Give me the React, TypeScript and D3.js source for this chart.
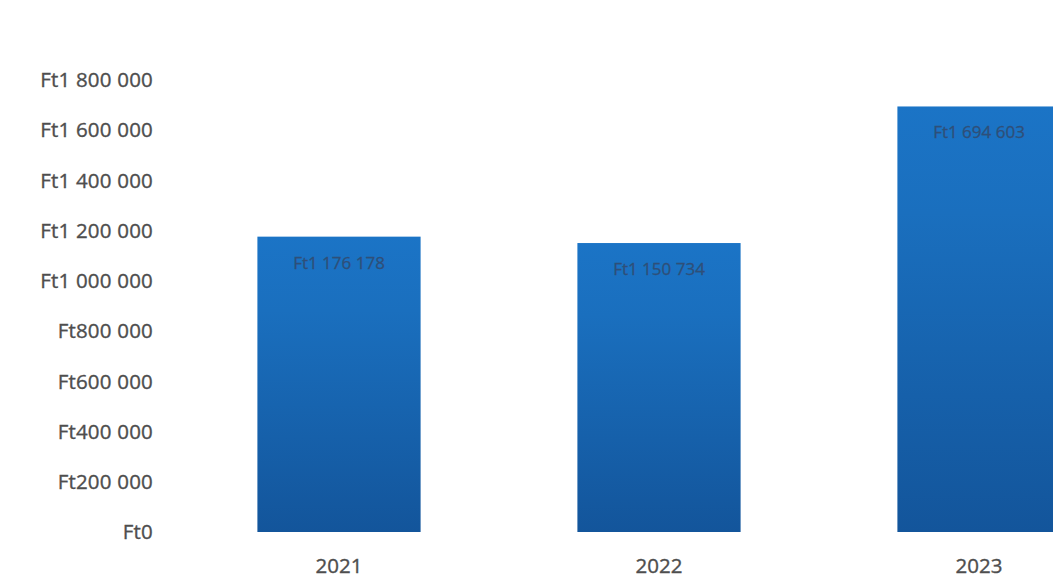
import React, { useRef, useEffect } from 'react';
import * as d3 from 'd3';

const years = ['2021', '2022', '2023'];
const amounts = [1176178, 1150734, 1694603];
const yTicks = [0, 200000, 400000, 600000, 800000, 1000000, 1200000, 1400000, 1600000, 1800000];

const WIDTH = 1053;
const HEIGHT = 578;

// Hungarian-style grouping with spaces, "Ft" prefix
const formatFt = (v: number) => 'Ft' + d3.format(',')(v).replace(/,/g, ' ');

const App: React.FC = () => {
  const svgRef = useRef<SVGSVGElement>(null);

  useEffect(() => {
    if (!svgRef.current) return;
    const svg = d3.select(svgRef.current);
    svg.selectAll('*').remove();

    const y = d3.scaleLinear().domain([0, 1800000]).range([532, 80]);
    const x = d3.scaleBand<string>().domain(years).range([179, 1139]).paddingInner(0.49).paddingOuter(0.245);

    const defs = svg.append('defs');
    const grad = defs.append('linearGradient')
      .attr('id', 'barFill')
      .attr('x1', 0).attr('y1', 0).attr('x2', 0).attr('y2', 1);
    grad.append('stop').attr('offset', '0%').attr('stop-color', '#1b74c6');
    grad.append('stop').attr('offset', '25%').attr('stop-color', '#1a6fbe');
    grad.append('stop').attr('offset', '100%').attr('stop-color', '#13559b');

    // Y axis labels (no line, no gridlines)
    svg.append('g')
      .selectAll('text')
      .data(yTicks)
      .join('text')
      .attr('x', 153)
      .attr('y', d => y(d))
      .attr('dy', '0.35em')
      .attr('text-anchor', 'end')
      .attr('font-family', 'Open Sans, sans-serif')
      .attr('font-size', 20.5)
      .attr('letter-spacing', 0.2)
      .attr('fill', '#4e4e4e')
      .attr('stroke', '#4e4e4e')
      .attr('stroke-width', 0.35)
      .text(d => formatFt(d));

    // Bars
    svg.append('g')
      .selectAll('rect')
      .data(amounts)
      .join('rect')
      .attr('x', (_, i) => x(years[i])!)
      .attr('y', d => y(d))
      .attr('width', x.bandwidth())
      .attr('height', d => y(0) - y(d))
      .attr('fill', 'url(#barFill)');

    // Value labels inside bar tops
    svg.append('g')
      .selectAll('text')
      .data(amounts)
      .join('text')
      .attr('x', (_, i) => x(years[i])! + x.bandwidth() / 2)
      .attr('y', d => y(d) + 32)
      .attr('text-anchor', 'middle')
      .attr('font-family', 'Open Sans, sans-serif')
      .attr('font-size', 17)
      .attr('fill', '#2f4f78')
      .attr('stroke', '#2f4f78')
      .attr('stroke-width', 0.3)
      .text(d => formatFt(d));

    // Category labels
    svg.append('g')
      .selectAll('text')
      .data(years)
      .join('text')
      .attr('x', d => x(d)! + x.bandwidth() / 2)
      .attr('y', 573)
      .attr('text-anchor', 'middle')
      .attr('font-family', 'Open Sans, sans-serif')
      .attr('font-size', 20.5)
      .attr('fill', '#4e4e4e')
      .attr('stroke', '#4e4e4e')
      .attr('stroke-width', 0.35)
      .text(d => d);
  }, []);

  return (
    <svg
      ref={svgRef}
      width={WIDTH}
      height={HEIGHT}
      style={{ position: 'absolute', left: 0, top: 0, background: '#ffffff' }}
    />
  );
};

export default App;
